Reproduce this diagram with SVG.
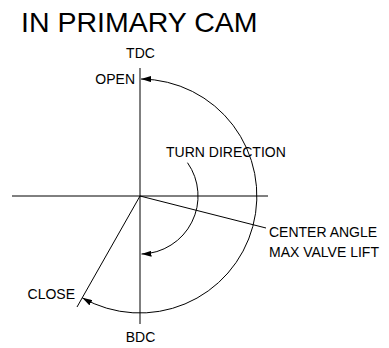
<svg xmlns="http://www.w3.org/2000/svg" width="389" height="348" viewBox="0 0 389 348">
<style>
text{font-family:"Liberation Sans",Arial,sans-serif;fill:#000}
.s{font-size:14px}
.ln{stroke:#000;stroke-width:1;fill:none}
</style>
<defs>
<marker id="ah" viewBox="0 0 10 6" refX="10" refY="3" markerWidth="10" markerHeight="6" markerUnits="userSpaceOnUse" orient="auto-start-reverse">
<path d="M0,0 L10,3 L0,6 Z" fill="#000"/>
</marker>
</defs>
<rect width="389" height="348" fill="#fff"/>
<g id="title"><text x="21" y="32" style="font-size:28.5px">IN PRIMARY CAM</text></g>
<g id="connectors">
<line class="ln" x1="140" y1="68" x2="140" y2="324"/>
<line class="ln" x1="12" y1="196" x2="268" y2="196"/>
<line class="ln" x1="140" y1="196" x2="266" y2="228"/>
<line class="ln" x1="140" y1="196" x2="77" y2="307"/>
<path class="ln" d="M141,79 A117,117 0 1 1 82.2,297.8" marker-start="url(#ah)" marker-end="url(#ah)"/>
<path class="ln" d="M187.5,162.7 A58,58 0 0 1 141.5,254" marker-end="url(#ah)"/>
</g>
<g id="tdc"><text class="s" x="140.5" y="58" text-anchor="middle">TDC</text></g>
<g id="bdc"><text class="s" x="140.5" y="342" text-anchor="middle">BDC</text></g>
<g id="open"><text class="s" x="135" y="84" text-anchor="end">OPEN</text></g>
<g id="close"><text class="s" x="75" y="299" text-anchor="end">CLOSE</text></g>
<g id="turn"><text class="s" x="166" y="157">TURN DIRECTION</text></g>
<g id="center"><text class="s" x="269" y="237">CENTER ANGLE</text><text class="s" x="269" y="257">MAX VALVE LIFT</text></g>
</svg>
